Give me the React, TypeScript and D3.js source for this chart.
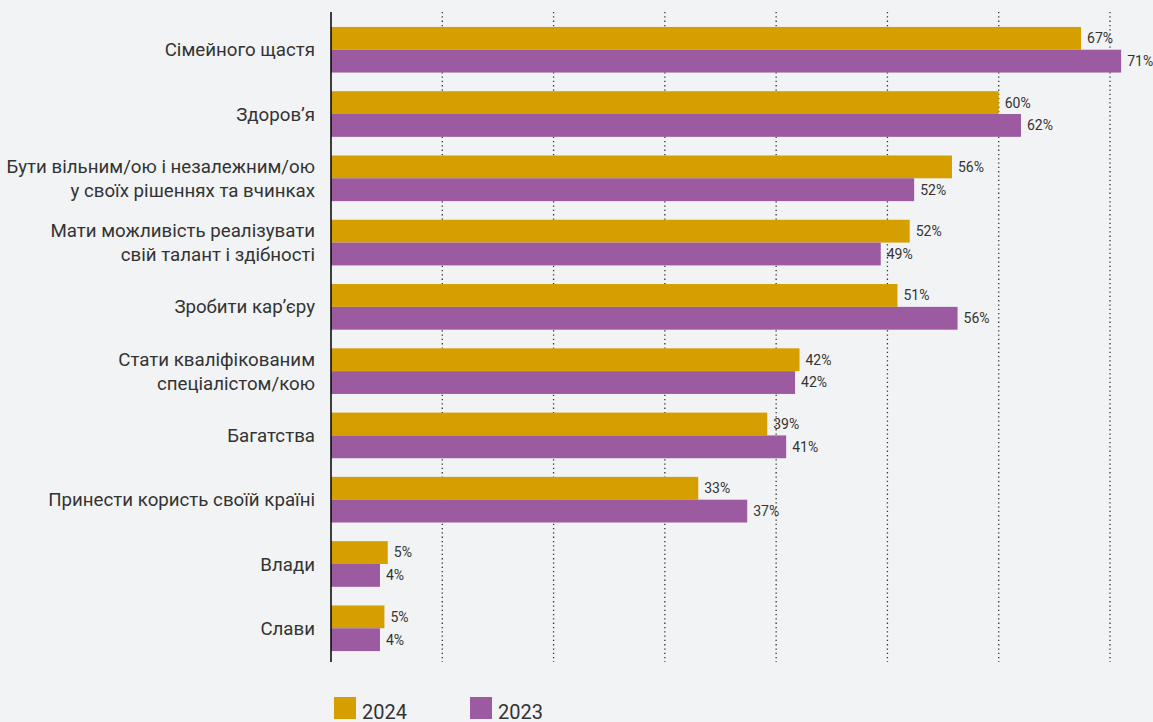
import React from "react";
import * as d3 from "d3";

const categories = [
  ["Сімейного щастя"],
  ["Здоров’я"],
  ["Бути вільним/ою і незалежним/ою", "у своїх рішеннях та вчинках"],
  ["Мати можливість реалізувати", "свій талант і здібності"],
  ["Зробити кар’єру"],
  ["Стати кваліфікованим", "спеціалістом/кою"],
  ["Багатства"],
  ["Принести користь своїй країні"],
  ["Влади"],
  ["Слави"],
];
const values2024 = [67.4, 60, 55.8, 52, 50.9, 42.1, 39.2, 33, 5.1, 4.8];
const values2023 = [71, 62, 52.4, 49.4, 56.3, 41.7, 40.9, 37.4, 4.4, 4.4];
const seriesNames = ["2024", "2023"];
const gridTicks = [10, 20, 30, 40, 50, 60, 70];

const W = 1153;
const H = 722;
const colors = ["#D59F00", "#9C5BA1"];
const font = "Roboto, 'Noto Sans', sans-serif";

export default function App() {
  const x = d3.scaleLinear().domain([0, 70]).range([331, 1110]);
  const y = d3
    .scaleBand<number>()
    .domain(d3.range(categories.length))
    .range([17.6, 660.4])
    .paddingInner(0.29)
    .paddingOuter(0.145);
  const sub = d3.scaleBand<number>().domain([0, 1]).range([0, y.bandwidth()]);
  const series = [values2024, values2023];

  return (
    <div style={{ position: "absolute", left: 0, top: 0 }}>
      <style>{"body{margin:0}"}</style>
      <svg width={W} height={H} style={{ display: "block", background: "#F2F3F5" }}>
        {gridTicks.map((t) => (
          <line
            key={t}
            x1={x(t)}
            x2={x(t)}
            y1={12}
            y2={662}
            stroke="#333"
            strokeWidth={1.3}
            strokeDasharray="1.3,3"
          />
        ))}
        {categories.map((lines, i) => {
          const cy = (y(i) ?? 0) + y.bandwidth() / 2;
          const lh = 24;
          return (
            <g key={i}>
              {series.map((vals, s) => (
                <g key={s}>
                  <rect
                    x={x(0)}
                    y={(y(i) ?? 0) + (sub(s) ?? 0)}
                    width={x(vals[i]) - x(0)}
                    height={sub.bandwidth()}
                    fill={colors[s]}
                  />
                  <text
                    x={x(vals[i]) + 6}
                    y={(y(i) ?? 0) + (sub(s) ?? 0) + sub.bandwidth() / 2}
                    dy="0.35em"
                    fontFamily={font}
                    fontSize={14}
                    fill="#333"
                  >
                    {Math.round(vals[i])}%
                  </text>
                </g>
              ))}
              <text
                x={315}
                textAnchor="end"
                fontFamily={font}
                fontSize={18.7}
                fill="#333"
              >
                {lines.map((l, k) => (
                  <tspan
                    key={k}
                    x={315}
                    y={cy + (k - (lines.length - 1) / 2) * lh}
                    dy="0.35em"
                  >
                    {l}
                  </tspan>
                ))}
              </text>
            </g>
          );
        })}
        <line x1={x(0)} x2={x(0)} y1={12} y2={662} stroke="#000" strokeWidth={1.5} />
        {seriesNames.map((name, s) => (
          <g key={name} transform={`translate(${334 + s * 136},697)`}>
            <rect width={22} height={22} fill={colors[s]} />
            <text x={28} y={22} fontFamily={font} fontSize={20} fill="#333">
              {name}
            </text>
          </g>
        ))}
      </svg>
    </div>
  );
}
